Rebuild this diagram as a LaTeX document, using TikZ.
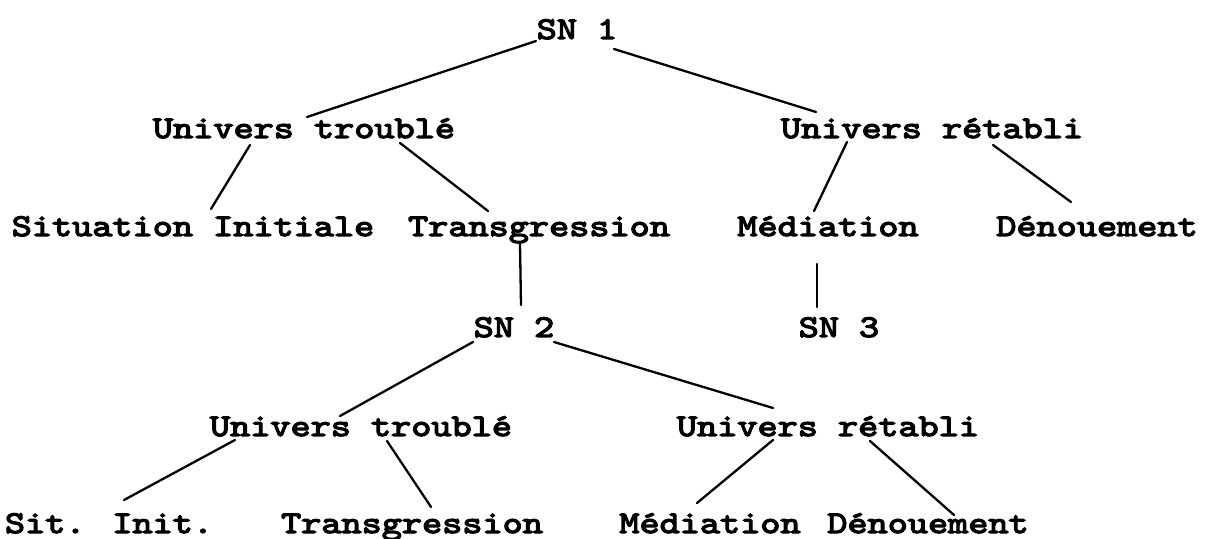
\documentclass[tikz,border=0pt]{standalone}
\usepackage{fontspec}
\newfontfamily\tw{lmmono10-regular.otf}[FakeBold=4,FakeStretch=1.214]
\begin{document}
\begin{tikzpicture}[x=0.5pt,y=-0.5pt,
  lbl/.style={inner sep=0pt,anchor=base,font=\tw\fontsize{15.8}{19}\selectfont},
  edge/.style={line width=1.15pt,line cap=round}]
\useasboundingbox (0,0) rectangle (1210,539);
\node[lbl] (sn1) at (577,39) {SN 1};
\node[lbl] (ut1) at (304,138) {Univers troublé};
\node[lbl] (ur1) at (932,138) {Univers rétabli};
\node[lbl] (si)  at (193,236) {Situation Initiale};
\node[lbl] (tr1) at (539,236) {Transgression};
\node[lbl] (me1) at (828,236) {Médiation};
\node[lbl] (de1) at (1097,236) {Dénouement};
\node[lbl] (sn2) at (514,337) {SN 2};
\node[lbl] (sn3) at (839,337) {SN 3};
\node[lbl] (ut2) at (361,436) {Univers troublé};
\node[lbl] (ur2) at (828,436) {Univers rétabli};
\node[lbl] (sit) at (109,533) {Sit. Init.};
\node[lbl] (tr2) at (412,533) {Transgression};
\node[lbl] (me2) at (710,533) {Médiation};
\node[lbl] (de2) at (928,533) {Dénouement};
\draw[edge] ([shift={(-41,2)}]sn1.base) -- ([shift={(3,-21)}]ut1.base);
\draw[edge] ([shift={(37,10)}]sn1.base) -- ([shift={(-116,-26)}]ur1.base);
\draw[edge] ([shift={(-54,7)}]ut1.base) -- ([shift={(18,-27)}]si.base);
\draw[edge] ([shift={(96,5)}]ut1.base) -- ([shift={(-51,-25)}]tr1.base);
\draw[edge] ([shift={(-85,4)}]ur1.base) -- ([shift={(-14,-25)}]me1.base);
\draw[edge] ([shift={(61,7)}]ur1.base) -- ([shift={(-26,-34)}]de1.base);
\draw[edge] ([shift={(-19,8)}]tr1.base) -- ([shift={(7,-32)}]sn2.base);
\draw[edge] ([shift={(-11,28)}]me1.base) -- ([shift={(-22,-30)}]sn3.base);
\draw[edge] ([shift={(-41,5)}]sn2.base) -- ([shift={(-21,-20)}]ut2.base);
\draw[edge] ([shift={(40,5)}]sn2.base) -- ([shift={(-55,-28)}]ur2.base);
\draw[edge] ([shift={(-126,4)}]ut2.base) -- ([shift={(15,-33)}]sit.base);
\draw[edge] ([shift={(26,5)}]ut2.base) -- ([shift={(19,-26)}]tr2.base);
\draw[edge] ([shift={(-55,4)}]ur2.base) -- ([shift={(-13,-30)}]me2.base);
\draw[edge] ([shift={(42,5)}]ur2.base) -- ([shift={(26,-18)}]de2.base);
\end{tikzpicture}
\end{document}
